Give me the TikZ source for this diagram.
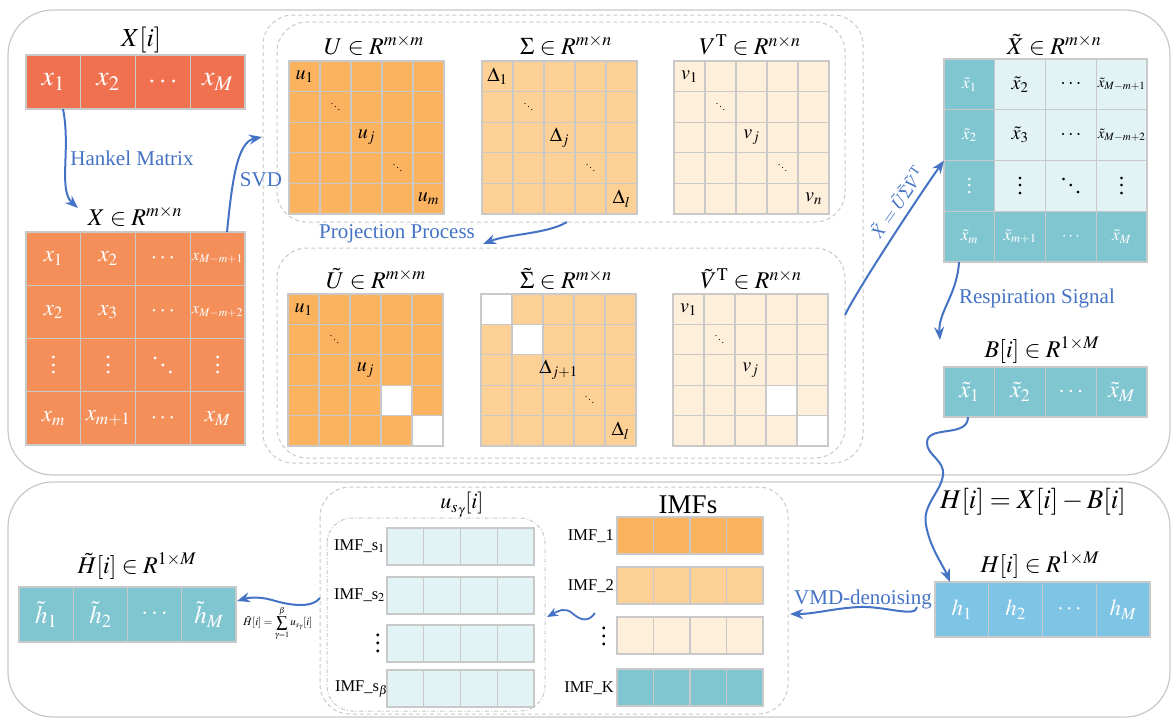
\documentclass[tikz,border=0pt]{standalone}
\usepackage{mathptmx}
\usepackage[no-math]{fontspec}
\setmainfont{Liberation Serif}
\usetikzlibrary{arrows.meta,calc}
\definecolor{cRed}{HTML}{F07150}
\definecolor{cHank}{HTML}{F58F5A}
\definecolor{cU}{HTML}{FBB360}
\definecolor{cS}{HTML}{FDD096}
\definecolor{cV}{HTML}{FEEFDA}
\definecolor{cTeal}{HTML}{80C6D1}
\definecolor{cLight}{HTML}{E2F3F6}
\definecolor{cSky}{HTML}{7EC4E4}
\definecolor{cBlue}{HTML}{4472C4}
\definecolor{cGrid}{HTML}{C9C9C9}
\definecolor{cBox}{HTML}{C8C8C8}
\newcommand\fs[1]{\fontsize{#1}{#1}\selectfont}
\newcommand\vd{\vbox{\baselineskip=0.33em\lineskiplimit=-2em\hbox{.}\hbox{.}\hbox{.}}}
\newcommand\dd{\mbox{\raisebox{0.62em}{.}\hspace{0.08em}\raisebox{0.31em}{.}\hspace{0.08em}.}}
\newcommand\mmat[8]{%
  \node[anchor=north west, fill=#8, inner sep=0pt, outer sep=0pt,
        minimum width={(#4)*(#6)*1pt}, minimum height={(#5)*(#7)*1pt}] (#1) at (#2,#3) {};%
  \def\mL{#2}\def\mT{#3}\def\mW{#4}\def\mH{#5}\def\mNC{#6}\def\mNR{#7}}
\newcommand\mfill[3]{\fill[#3] ({\mL+(#1-1)*\mW},{\mT+(#2-1)*\mH}) rectangle ++(\mW,\mH);}
\newcommand\mgrid{\foreach \i in {1,...,\mNC}{\foreach \j in {1,...,\mNR}{\draw[gridline] ({\mL+(\i-1)*\mW},{\mT+(\j-1)*\mH}) rectangle ++(\mW,\mH);}}}
\newcommand\mcell[4][]{\node[celltext,#1] at ({\mL+(#2-0.5)*\mW},{\mT+(#3-0.5)*\mH}) {#4};}
\tikzset{
 gridline/.style={draw=cGrid, line width=1.2pt},
 celltext/.style={inner sep=0pt, font=\fs{20}},
 wtext/.style={celltext, text=white},
 tiny/.style={celltext, font=\fs{10}},
 lbl/.style={inner sep=0pt, font=\fs{24}},
 bluelbl/.style={inner sep=0pt, font=\fs{21}, text=cBlue},
 flow/.style={draw=cBlue, line width=2pt, -{Stealth[length=13pt,width=10pt]}},
 outerbox/.style={draw=cBox, line width=1.2pt, rounded corners=45pt},
 dbox/.style={draw=cBox, line width=1pt, dash pattern=on 4pt off 3pt, rounded corners=30pt},
 ddbox/.style={draw=cBox, line width=1pt, dash pattern=on 4pt off 2pt on 1pt off 2pt, rounded corners=25pt},
 imflbl/.style={inner sep=0pt, font=\fs{16.5}, anchor=east},
}
\begin{document}
\begin{tikzpicture}[x=1pt,y=-1pt]
\useasboundingbox (0,0) rectangle (1172,718);
% frames
\draw[outerbox] (8,10) rectangle (1170,475);
\draw[outerbox] (8,482) rectangle (1170,717);
\draw[dbox] (263,15) rectangle (863,463);
\draw[dbox] (277,22) rectangle (845,222);
\draw[dbox] (277,248) rectangle (845,458);
\draw[dbox] (320,487) rectangle (788,714);
\draw[ddbox] (327,518) rectangle (545,711);

% X[i]
\mmat{Xi}{26}{55}{54.75}{54}{4}{1}{cRed}\mgrid
\mcell[wtext,font=\fs{28}]{1}{1}{$x_1$}
\mcell[wtext,font=\fs{28}]{2}{1}{$x_2$}
\mcell[wtext,font=\fs{28}]{3}{1}{$\cdots$}
\mcell[wtext,font=\fs{28}]{4}{1}{$x_M$}
\node[lbl,font=\fs{26}] (XiL) at (141,40) {$X[i]$};

% Hankel
\mmat{Hk}{26}{232}{54.75}{53.25}{4}{4}{cHank}\mgrid
\mcell[wtext,font=\fs{23}]{1}{1}{$x_1$}
\mcell[wtext,font=\fs{23}]{2}{1}{$x_2$}
\mcell[wtext,font=\fs{23}]{3}{1}{$\cdots$}
\mcell[wtext,font=\fs{16}]{4}{1}{$x_{M-m+1}$}
\mcell[wtext,font=\fs{23}]{1}{2}{$x_2$}
\mcell[wtext,font=\fs{23}]{2}{2}{$x_3$}
\mcell[wtext,font=\fs{23}]{3}{2}{$\cdots$}
\mcell[wtext,font=\fs{16}]{4}{2}{$x_{M-m+2}$}
\mcell[wtext,font=\fs{23}]{1}{3}{\vd}
\mcell[wtext,font=\fs{23}]{2}{3}{\vd}
\mcell[wtext,font=\fs{23}]{3}{3}{\dd}
\mcell[wtext,font=\fs{23}]{4}{3}{\vd}
\mcell[wtext,font=\fs{23}]{1}{4}{$x_m$}
\mcell[wtext,font=\fs{23}]{2}{4}{$x_{m+1}$}
\mcell[wtext,font=\fs{23}]{3}{4}{$\cdots$}
\mcell[wtext,font=\fs{23}]{4}{4}{$x_M$}
\node[lbl] (HkL) at (135,216) {$X\in R^{m\times n}$};

% U
\mmat{U}{289}{61}{31}{30.6}{5}{5}{cU}\mgrid
\mcell{1}{1}{$u_1$}\mcell[tiny]{2}{2}{\dd}\mcell{3}{3}{$u_j$}\mcell[tiny]{4}{4}{\dd}\mcell{5}{5}{$u_m$}
\node[lbl] (UL) at (374,45) {$U\in R^{m\times m}$};
% Sigma
\mmat{S}{482}{61}{31}{30.6}{5}{5}{cS}\mgrid
\mcell{1}{1}{$\Delta_1$}\mcell[tiny]{2}{2}{\dd}\mcell{3}{3}{$\Delta_j$}\mcell[tiny]{4}{4}{\dd}\mcell{5}{5}{$\Delta_l$}
\node[lbl] (SL) at (566,45) {$\Sigma\in R^{m\times n}$};
% V
\mmat{V}{674}{61}{31}{30.6}{5}{5}{cV}\mgrid
\mcell{1}{1}{$v_1$}\mcell[tiny]{2}{2}{\dd}\mcell{3}{3}{$v_j$}\mcell[tiny]{4}{4}{\dd}\mcell{5}{5}{$v_n$}
\node[lbl] (VL) at (750,45) {$V^{\mathrm{T}}\in R^{n\times n}$};

% U tilde
\mmat{Ut}{288}{294}{31}{30.4}{5}{5}{cU}\mfill{4}{4}{white}\mfill{5}{5}{white}\mgrid
\mcell{1}{1}{$u_1$}\mcell[tiny]{2}{2}{\dd}\mcell{3}{3}{$u_j$}
\node[lbl] (UtL) at (376,279) {$\tilde U\in R^{m\times m}$};
% Sigma tilde
\mmat{St}{481}{294}{31}{30.4}{5}{5}{cS}\mfill{1}{1}{white}\mfill{2}{2}{white}\mgrid
\mcell{3}{3}{$\Delta_{j+1}$}\mcell[tiny]{4}{4}{\dd}\mcell{5}{5}{$\Delta_l$}
\node[lbl] (StL) at (566,279) {$\tilde\Sigma\in R^{m\times n}$};
% V tilde
\mmat{Vt}{673}{294}{31}{30.4}{5}{5}{cV}\mfill{4}{4}{white}\mfill{5}{5}{white}\mgrid
\mcell{1}{1}{$v_1$}\mcell[tiny]{2}{2}{\dd}\mcell{3}{3}{$v_j$}
\node[lbl] (VtL) at (751,279) {$\tilde V^{\mathrm{T}}\in R^{n\times n}$};

% X tilde
\mmat{Xt}{944}{59}{50.75}{50.75}{4}{4}{cLight}
\mfill{1}{1}{cTeal}\mfill{1}{2}{cTeal}\mfill{1}{3}{cTeal}\mfill{1}{4}{cTeal}\mfill{2}{4}{cTeal}\mfill{3}{4}{cTeal}\mfill{4}{4}{cTeal}
\mgrid
\mcell[wtext,font=\fs{17}]{1}{1}{$\tilde x_1$}
\mcell{2}{1}{$\tilde x_2$}
\mcell{3}{1}{$\cdots$}
\mcell[font=\fs{15}]{4}{1}{$\tilde x_{M-m+1}$}
\mcell[wtext,font=\fs{17}]{1}{2}{$\tilde x_2$}
\mcell{2}{2}{$\tilde x_3$}
\mcell{3}{2}{$\cdots$}
\mcell[font=\fs{15}]{4}{2}{$\tilde x_{M-m+2}$}
\mcell[wtext,font=\fs{20}]{1}{3}{\vd}
\mcell[font=\fs{22}]{2}{3}{\vd}
\mcell[font=\fs{22}]{3}{3}{\dd}
\mcell[font=\fs{22}]{4}{3}{\vd}
\mcell[wtext,font=\fs{17}]{1}{4}{$\tilde x_m$}
\mcell[wtext,font=\fs{17}]{2}{4}{$\tilde x_{m+1}$}
\mcell[wtext,font=\fs{17}]{3}{4}{$\cdots$}
\mcell[wtext,font=\fs{17}]{4}{4}{$\tilde x_M$}
\node[lbl] (XtL) at (1054,45) {$\tilde X\in R^{m\times n}$};

% B
\mmat{B}{944}{367}{50.75}{50}{4}{1}{cTeal}\mgrid
\mcell[wtext,font=\fs{24}]{1}{1}{$\tilde x_1$}
\mcell[wtext,font=\fs{24}]{2}{1}{$\tilde x_2$}
\mcell[wtext,font=\fs{24}]{3}{1}{$\cdots$}
\mcell[wtext,font=\fs{24}]{4}{1}{$\tilde x_M$}
\node[lbl] (BL) at (1042,350) {$B[i]\in R^{1\times M}$};

% H
\mmat{H}{935}{582}{53.75}{55}{4}{1}{cSky}\mgrid
\mcell[wtext,font=\fs{23}]{1}{1}{$h_1$}
\mcell[wtext,font=\fs{23}]{2}{1}{$h_2$}
\mcell[wtext,font=\fs{23}]{3}{1}{$\cdots$}
\mcell[wtext,font=\fs{23}]{4}{1}{$h_M$}
\node[lbl] (HL) at (1040,565) {$H[i]\in R^{1\times M}$};
\node[lbl,font=\fs{27}] (HeqL) at (1033,502) {$H[i]=X[i]-B[i]$};

% H tilde
\mmat{Ht}{19}{587}{54.25}{55}{4}{1}{cTeal}\mgrid
\mcell[wtext,font=\fs{25}]{1}{1}{$\tilde h_1$}
\mcell[wtext,font=\fs{25}]{2}{1}{$\tilde h_2$}
\mcell[wtext,font=\fs{25}]{3}{1}{$\cdots$}
\mcell[wtext,font=\fs{25}]{4}{1}{$\tilde h_M$}
\node[lbl] (HtL) at (137,566) {$\tilde H[i]\in R^{1\times M}$};

% IMFs
\mmat{I1}{617}{517}{36.5}{37}{4}{1}{cU}\mgrid
\mmat{I2}{617}{567}{36.5}{37}{4}{1}{cS}\mgrid
\mmat{I3}{617}{617}{36.5}{37}{4}{1}{cV}\mgrid
\mmat{IK}{617}{669}{36.5}{37}{4}{1}{cTeal}\mgrid
\node[imflbl] (I1L) at (614,536) {IMF\_1};
\node[imflbl] (I2L) at (614,586) {IMF\_2};
\node[imflbl,font=\fs{24}] (I3L) at (607,636) {\vd};
\node[imflbl] (IKL) at (614,688) {IMF\_K};
\node[inner sep=0pt,font=\fs{27}] (IMFsL) at (688,505) {IMFs};

% u_s rows
\mmat{S1}{387}{528}{36.75}{37}{4}{1}{cLight}\mgrid
\mmat{S2}{387}{577}{36.75}{37}{4}{1}{cLight}\mgrid
\mmat{S3}{387}{625}{36.75}{37}{4}{1}{cLight}\mgrid
\mmat{S4}{387}{670}{36.75}{37}{4}{1}{cLight}\mgrid
\node[imflbl] (S1L) at (385,546) {IMF\_s$_1$};
\node[imflbl] (S2L) at (385,595) {IMF\_s$_2$};
\node[imflbl,font=\fs{24}] (S3L) at (381,643) {\vd};
\node[imflbl] (S4L) at (388,689) {IMF\_s$_\beta$};
\node[lbl,font=\fs{22}] (usL) at (462,505) {$u_{s_\gamma}[i]$};

% connectors
\coordinate (hkS) at ($(Xi.south west)+(37,0)$);
\coordinate (hkE) at ($(Hk.north west)+(52,-24)$);
\draw[flow] (hkS) .. controls +(8,40) and +(-20,-18) .. (hkE);
\node[bluelbl] (hkT) at (132,158) {Hankel Matrix};

\coordinate (svS) at ($(Hk.north east)+(-18,0)$);
\coordinate (svE) at (262,137);
\draw[flow] (svS) .. controls +(5,-50) and +(-25,5) .. (svE);
\node[bluelbl] (svT) at (261,180) {SVD};

\coordinate (prS) at ($(S.south west)+(85,8)$);
\coordinate (prE) at (483,244);
\draw[flow] (prS) .. controls +(-20,12) and +(25,-10) .. (prE);
\node[bluelbl] (prT) at (397,234) {Projection Process};

\coordinate (xtS) at (845,315);
\draw[flow] (xtS) .. controls +(12,-25) and +(-25,35) .. (Xt.west);
\node[inner sep=0pt,font=\fs{18},text=cBlue,rotate=55] (xtT) at (897,202) {$\tilde X=\tilde U\tilde\Sigma\tilde V^{\mathrm{T}}$};

\coordinate (rsS) at ($(Xt.south west)+(15,0)$);
\coordinate (rsE) at ($(B.north west)+(-4,-27)$);
\draw[flow] (rsS) .. controls +(-2,33) and +(-2,-28) .. (rsE);
\node[bluelbl] (rsT) at (1037,298) {Respiration Signal};

\coordinate (bS) at ($(B.south west)+(24,0)$);
\coordinate (hE) at ($(H.north west)+(15,0)$);
\draw[flow] (bS) .. controls +(0,21) and (928,425) .. (927,442)
  .. controls (926,455) and (945,460) .. (943,475)
  .. controls (941,492) and (922,505) .. (926,525)
  .. controls (930,548) and (943,565) .. (hE);

\coordinate (vmS) at (917,607);
\coordinate (vmE) at (790,614);
\draw[flow] (vmS) .. controls (916,618) and (885,606) .. (860,607) .. controls (835,608) and (815,614) .. (vmE);
\node[bluelbl] (vmT) at (863,599) {VMD-denoising};

\coordinate (imS) at (595,613);
\coordinate (imE) at (547,617);
\draw[flow,line width=1.8pt,-{Stealth[length=11pt,width=9pt]}] (imS) .. controls (588,623) and (580,620) .. (572,613) .. controls (565,607) and (558,611) .. (imE);

\coordinate (usS) at (320,598);
\coordinate (usE) at ($(Ht.north east)+(1,14)$);
\draw[flow] (usS) .. controls (312,608) and (292,606) .. (272,600) .. controls (258,596) and (247,598) .. (usE);
\node[inner sep=0pt,font=\fs{11}] (sumT) at (278,623) {$\tilde H[i]=\displaystyle\sum_{\gamma=1}^{\beta}u_{s_\gamma}[i]$};
\end{tikzpicture}
\end{document}
